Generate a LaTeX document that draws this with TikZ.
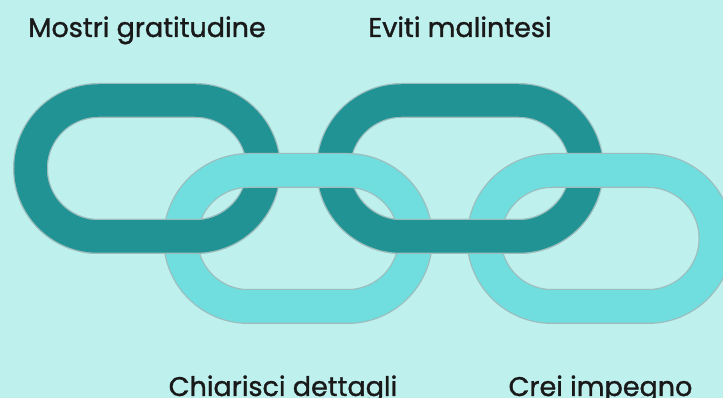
\documentclass[tikz,border=0pt]{standalone}
\usepackage{fontspec}
\setmainfont{Poppins}
\newfontfamily\chainfont{Poppins}[BoldFont=Poppins, BoldFeatures={FakeBold=1.2}]
\usepackage{tikz}
\usetikzlibrary{positioning}
\definecolor{chainbg}{HTML}{BEF0EE}
\definecolor{chaindark}{HTML}{219394}
\definecolor{chainlight}{HTML}{70DEDF}
\definecolor{chainedge}{HTML}{9DBDBD}
\tikzset{
  linkedge/.style={draw=chainedge, line width=35pt},
  linkfill/.style={draw=#1, line width=32.5pt},
  chainlbl/.style={anchor=base, font=\chainfont\bfseries\fontsize{27}{31}\selectfont, text=black!90},
}
\newcommand{\chainlink}[4]{%
  \draw[linkedge] (#1,#3+68) -- (#2,#3+68) arc[start angle=90, end angle=-90, radius=68]
    -- (#1,#3-68) arc[start angle=270, end angle=90, radius=68] -- cycle;
  \draw[linkfill=#4] (#1,#3+68) -- (#2,#3+68) arc[start angle=90, end angle=-90, radius=68]
    -- (#1,#3-68) arc[start angle=270, end angle=90, radius=68] -- cycle;
}

\begin{document}
\begin{tikzpicture}[x=1pt, y=1pt]
  \fill[chainbg] (0,0) rectangle (723,398);
  \useasboundingbox (0,0) rectangle (723,398);
  \chainlink{98.5}{195.5}{229.5}{chaindark}
  \chainlink{401.5}{518.5}{229.5}{chaindark}
  \chainlink{248.5}{347.5}{159.5}{chainlight}
  \chainlink{552}{648}{159.5}{chainlight}
  \begin{scope}
    \clip (0,0) rectangle (723,198);
    \chainlink{98.5}{195.5}{229.5}{chaindark}
    \chainlink{401.5}{518.5}{229.5}{chaindark}
  \end{scope}
  \node[chainlbl] (gratitudine) at (147,361) {Mostri gratitudine};
  \node[chainlbl] (malintesi) at (460,361) {Eviti malintesi};
  \node[chainlbl] (dettagli) at (283,2) {Chiarisci dettagli};
  \node[chainlbl] (impegno) at (600.5,2) {Crei impegno};
\end{tikzpicture}
\end{document}
